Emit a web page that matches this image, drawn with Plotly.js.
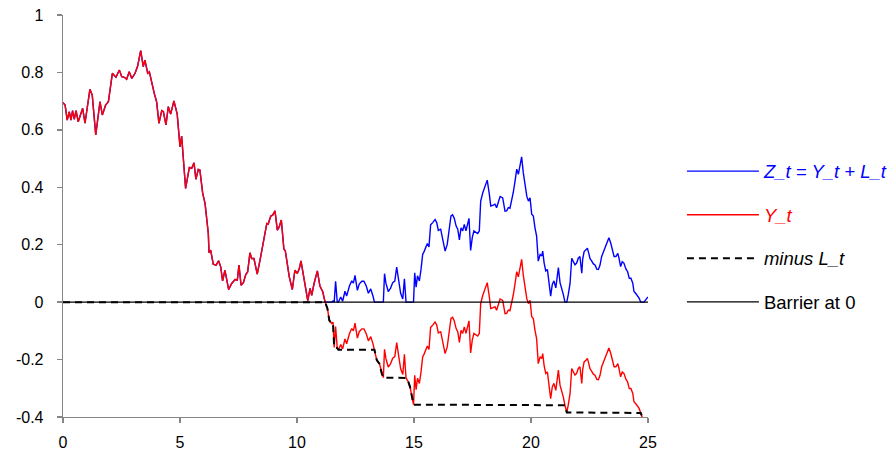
<!DOCTYPE html>
<html>
<head>
<meta charset="utf-8">
<script src="https://cdn.plot.ly/plotly-3.0.1.min.js"></script>
<style>html,body{margin:0;padding:0;background:#fff;}#chart{width:891px;height:455px;}</style>
</head>
<body>
<div id="chart"></div>
<script>
// time grid
const t = [
0.00,0.09,0.18,0.27,0.34,0.41,0.48,0.56,0.65,0.84,
0.94,1.15,1.25,1.40,1.58,1.68,1.82,1.94,2.11,2.19,
2.26,2.41,2.51,2.62,2.72,2.83,2.94,3.08,3.19,3.32,
3.43,3.50,3.62,3.69,3.79,3.90,4.00,4.10,4.22,4.29,
4.40,4.50,4.60,4.74,4.88,5.00,5.07,5.24,5.40,5.50,
5.60,5.68,5.78,5.85,5.97,6.07,6.21,6.24,6.31,6.42,
6.54,6.65,6.74,6.82,6.92,7.08,7.21,7.35,7.45,7.52,
7.61,7.71,7.81,7.89,7.99,8.06,8.16,8.25,8.30,8.42,
8.53,8.63,8.71,8.77,8.88,8.96,9.06,9.16,9.24,9.33,
9.39,9.44,9.50,9.56,9.67,9.80,9.91,10.01,10.10,10.17,
10.24,10.34,10.46,10.56,10.63,10.73,10.87,10.98,11.10,11.20,
11.30,11.38,11.48,11.54,11.59,11.65,11.72,11.77,11.87,11.95,
12.05,12.12,12.24,12.34,12.41,12.48,12.58,12.66,12.77,12.86,
12.96,13.05,13.15,13.24,13.31,13.41,13.52,13.62,13.69,13.74,
13.80,13.90,14.00,14.09,14.18,14.26,14.35,14.43,14.52,14.59,
14.66,14.76,14.83,14.90,14.94,14.98,15.03,15.09,15.15,15.23,
15.30,15.37,15.43,15.51,15.57,15.64,15.71,15.80,15.90,15.97,
16.04,16.14,16.23,16.33,16.42,16.51,16.58,16.65,16.72,16.80,
16.87,16.94,17.01,17.08,17.15,17.22,17.28,17.35,17.42,17.49,
17.56,17.64,17.72,17.79,17.85,17.94,18.03,18.13,18.22,18.28,
18.39,18.46,18.53,18.60,18.68,18.79,18.89,18.96,19.03,19.10,
19.18,19.24,19.32,19.39,19.46,19.53,19.60,19.67,19.74,19.82,
19.89,19.96,20.03,20.10,20.17,20.24,20.31,20.39,20.46,20.50,
20.56,20.63,20.70,20.78,20.84,20.91,20.98,21.06,21.12,21.17,
21.24,21.31,21.38,21.45,21.53,21.59,21.67,21.74,21.81,21.88,
21.95,22.02,22.09,22.17,22.21,22.27,22.35,22.41,22.47,22.52,
22.59,22.66,22.74,22.81,22.88,22.95,23.02,23.12,23.24,23.33,
23.41,23.47,23.55,23.63,23.71,23.76,23.83,23.90,23.97,24.06,
24.13,24.20,24.27,24.35,24.40,24.47,24.54,24.62,24.69,24.76,
24.83,24.90,25.00];

// Y_t (red)
const Y = [
0.695,0.686,0.634,0.663,0.634,0.667,0.637,0.667,0.628,0.675,
0.623,0.741,0.721,0.582,0.698,0.652,0.686,0.698,0.797,0.787,
0.783,0.808,0.785,0.783,0.776,0.802,0.779,0.797,0.822,0.876,
0.820,0.843,0.797,0.802,0.762,0.727,0.698,0.623,0.667,0.663,
0.617,0.681,0.655,0.701,0.655,0.541,0.578,0.396,0.469,0.466,
0.485,0.428,0.462,0.460,0.379,0.344,0.239,0.172,0.181,0.132,
0.129,0.144,0.123,0.074,0.111,0.044,0.065,0.079,0.077,0.129,
0.059,0.068,0.096,0.105,0.172,0.152,0.152,0.117,0.098,0.146,
0.199,0.241,0.274,0.272,0.300,0.303,0.318,0.251,0.262,0.286,
0.228,0.184,0.179,0.146,0.088,0.044,0.111,0.100,0.117,0.144,
0.111,0.053,0.005,0.048,0.024,0.065,0.109,0.056,0.036,0.000,
-0.022,-0.063,-0.074,-0.070,-0.158,-0.085,-0.160,-0.166,-0.148,-0.163,
-0.128,-0.145,-0.110,-0.092,-0.100,-0.073,-0.125,-0.103,-0.093,-0.093,
-0.110,-0.135,-0.120,-0.143,-0.166,-0.202,-0.214,-0.248,-0.263,-0.164,
-0.197,-0.226,-0.214,-0.195,-0.190,-0.141,-0.200,-0.232,-0.252,-0.182,
-0.264,-0.278,-0.295,-0.324,-0.345,-0.357,-0.255,-0.305,-0.265,-0.283,
-0.243,-0.191,-0.181,-0.165,-0.153,-0.165,-0.088,-0.080,-0.069,-0.080,
-0.107,-0.103,-0.144,-0.179,-0.156,-0.109,-0.057,-0.053,-0.065,-0.092,
-0.103,-0.140,-0.098,-0.109,-0.086,-0.109,-0.092,-0.065,-0.177,-0.132,
-0.109,-0.115,-0.118,-0.109,-0.005,0.024,0.042,0.068,0.018,-0.022,
-0.019,-0.016,-0.028,-0.005,0.011,0.006,-0.040,-0.039,-0.028,-0.030,
0.000,0.024,0.065,0.106,0.088,0.117,0.149,0.094,0.053,0.012,
-0.005,0.006,-0.051,-0.057,-0.098,-0.127,-0.214,-0.191,-0.196,-0.179,
-0.220,-0.248,-0.243,-0.289,-0.336,-0.295,-0.283,-0.307,-0.266,-0.237,
-0.289,-0.307,-0.330,-0.359,-0.384,-0.359,-0.318,-0.231,-0.243,-0.254,
-0.248,-0.231,-0.225,-0.283,-0.234,-0.208,-0.202,-0.196,-0.214,-0.232,
-0.240,-0.250,-0.255,-0.269,-0.270,-0.255,-0.225,-0.202,-0.179,-0.160,
-0.179,-0.202,-0.225,-0.225,-0.214,-0.231,-0.260,-0.243,-0.248,-0.269,
-0.278,-0.301,-0.301,-0.318,-0.347,-0.353,-0.360,-0.370,-0.386,-0.400,
-0.420,-0.412,-0.402];

// minus L_t (black dashed)
const minusL = [
0,0,0,0,0,0,0,0,0,0,
0,0,0,0,0,0,0,0,0,0,
0,0,0,0,0,0,0,0,0,0,
0,0,0,0,0,0,0,0,0,0,
0,0,0,0,0,0,0,0,0,0,
0,0,0,0,0,0,0,0,0,0,
0,0,0,0,0,0,0,0,0,0,
0,0,0,0,0,0,0,0,0,0,
0,0,0,0,0,0,0,0,0,0,
0,0,0,0,0,0,0,0,0,0,
0,0,0,0,0,0,0,0,0,0,
-0.022,-0.063,-0.074,-0.074,-0.158,-0.158,-0.160,-0.166,-0.166,-0.166,
-0.166,-0.166,-0.166,-0.166,-0.166,-0.166,-0.166,-0.166,-0.166,-0.166,
-0.166,-0.166,-0.166,-0.166,-0.166,-0.202,-0.214,-0.248,-0.263,-0.263,
-0.263,-0.263,-0.263,-0.263,-0.263,-0.263,-0.263,-0.263,-0.263,-0.263,
-0.264,-0.278,-0.295,-0.324,-0.345,-0.357,-0.357,-0.357,-0.357,-0.357,
-0.357,-0.357,-0.357,-0.357,-0.357,-0.357,-0.357,-0.357,-0.357,-0.357,
-0.357,-0.357,-0.357,-0.357,-0.357,-0.357,-0.357,-0.357,-0.357,-0.357,
-0.357,-0.357,-0.357,-0.357,-0.357,-0.357,-0.357,-0.357,-0.357,-0.357,
-0.357,-0.357,-0.357,-0.357,-0.357,-0.357,-0.357,-0.357,-0.357,-0.357,
-0.357,-0.357,-0.357,-0.357,-0.357,-0.357,-0.357,-0.357,-0.357,-0.357,
-0.357,-0.357,-0.357,-0.357,-0.357,-0.357,-0.357,-0.357,-0.357,-0.357,
-0.357,-0.357,-0.357,-0.357,-0.357,-0.357,-0.357,-0.357,-0.357,-0.357,
-0.357,-0.357,-0.357,-0.357,-0.357,-0.357,-0.357,-0.357,-0.357,-0.357,
-0.357,-0.357,-0.357,-0.359,-0.384,-0.384,-0.384,-0.384,-0.384,-0.384,
-0.384,-0.384,-0.384,-0.384,-0.384,-0.384,-0.384,-0.384,-0.384,-0.384,
-0.384,-0.384,-0.384,-0.384,-0.384,-0.384,-0.384,-0.384,-0.384,-0.384,
-0.384,-0.384,-0.384,-0.384,-0.384,-0.384,-0.384,-0.384,-0.384,-0.384,
-0.384,-0.384,-0.384,-0.384,-0.384,-0.384,-0.384,-0.384,-0.386,-0.400,
-0.420,-0.420,-0.420];

// barrier
const barrierX = [0, 25];
const barrierY = [0, 0];

// axis ticks
const xTickVals = [0, 5, 10, 15, 20, 25];
const xTickText = ["0", "5", "10", "15", "20", "25"];
const yTickVals = [1, 0.8, 0.6, 0.4, 0.2, 0, -0.2, -0.4];
const yTickText = ["1", "0.8", "0.6", "0.4", "0.2", "0", "-0.2", "-0.4"];

// series names
const names = [
  '<i><span style="color:#0000ff">Z_t = Y_t + L_t</span></i>',
  '<i><span style="color:#ff0000">Y_t</span></i>',
  '<i>minus L_t</i>',
  'Barrier at 0'
];

// Z_t = Y_t + L_t  (L_t = -minusL)
const Z = Y.map((v, i) => +(v - minusL[i]).toFixed(3));

const FONT = 'Liberation Sans, Arial, sans-serif';

const data = [
  {x: t, y: Z, type: 'scatter', mode: 'lines', name: names[0], legendgroup: 'a',
   line: {color: '#0000ff', width: 1.4}},
  {x: t, y: Y, type: 'scatter', mode: 'lines', name: names[1], legendgroup: 'b',
   line: {color: '#ff0000', width: 1.4}},
  {x: t, y: minusL, type: 'scatter', mode: 'lines', name: names[2], legendgroup: 'c',
   line: {color: '#000000', width: 2, dash: '7px,5px'}},
  {x: barrierX, y: barrierY, type: 'scatter', mode: 'lines', name: names[3], legendgroup: 'd',
   line: {color: '#000000', width: 1.2}}
];

const axisCommon = {
  showline: true, linecolor: '#868686', linewidth: 1.3,
  ticks: 'outside', ticklen: 5, tickcolor: '#868686', tickwidth: 1.3,
  showgrid: false, zeroline: false,
  tickfont: {family: FONT, size: 16, color: '#000'}
};

const layout = {
  width: 891, height: 455,
  margin: {l: 63, r: 243, t: 15, b: 38, autoexpand: false},
  paper_bgcolor: '#fff', plot_bgcolor: '#fff',
  font: {family: FONT, size: 16, color: '#000'},
  xaxis: Object.assign({}, axisCommon, {
    range: [0, 25], tickmode: 'array', tickvals: xTickVals, ticktext: xTickText,
    ticklabelstandoff: 5
  }),
  yaxis: Object.assign({}, axisCommon, {
    range: [-0.4, 1], tickmode: 'array', tickvals: yTickVals, ticktext: yTickText,
    ticklabelstandoff: 10
  }),
  showlegend: true,
  legend: {
    x: 1.058, xanchor: 'left', y: 0.6576, yanchor: 'top',
    font: {family: FONT, size: 18.5, color: '#000'},
    traceorder: 'grouped', tracegroupgap: 16.5,
    itemwidth: 72, bgcolor: 'rgba(0,0,0,0)', borderwidth: 0
  }
};

Plotly.newPlot('chart', data, layout, {staticPlot: true, displayModeBar: false});
</script>
</body>
</html>
